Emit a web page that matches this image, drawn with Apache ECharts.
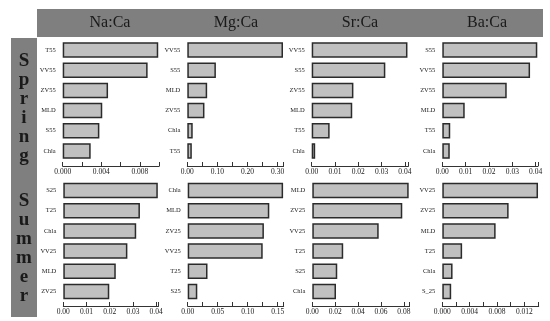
<!DOCTYPE html>
<html>
<head>
<meta charset="utf-8">
<script src="https://cdn.jsdelivr.net/npm/echarts@6/dist/echarts.min.js"></script>
<style>html,body{margin:0;padding:0;background:#fff}#c{width:550px;height:321px}</style>
</head>
<body>
<div id="c"></div>
<script>
const headers = ['Na:Ca', 'Mg:Ca', 'Sr:Ca', 'Ba:Ca'];
const seasons = ['Spring', 'Summer'];

const naSpringCats = ['T55', 'VV55', 'ZV55', 'MLD', 'S55', 'Chla'];
const naSpringVals = [0.0099, 0.0088, 0.0047, 0.0041, 0.0038, 0.0029];
const mgSpringCats = ['VV55', 'S55', 'MLD', 'ZV55', 'Chla', 'T55'];
const mgSpringVals = [0.318, 0.095, 0.066, 0.057, 0.018, 0.015];
const srSpringCats = ['VV55', 'S55', 'ZV55', 'MLD', 'T55', 'Chla'];
const srSpringVals = [0.0411, 0.0316, 0.0179, 0.0174, 0.0077, 0.0015];
const baSpringCats = ['S55', 'VV55', 'ZV55', 'MLD', 'T55', 'Chla'];
const baSpringVals = [0.0407, 0.0376, 0.0276, 0.0096, 0.0034, 0.0032];

const naSummerCats = ['S25', 'T25', 'Chla', 'VV25', 'MLD', 'ZV25'];
const naSummerVals = [0.0407, 0.0330, 0.0314, 0.0276, 0.0226, 0.0198];
const mgSummerCats = ['Chla', 'MLD', 'ZV25', 'VV25', 'T25', 'S25'];
const mgSummerVals = [0.159, 0.136, 0.127, 0.125, 0.033, 0.016];
const srSummerCats = ['MLD', 'ZV25', 'VV25', 'T25', 'S25', 'Chla'];
const srSummerVals = [0.0842, 0.0786, 0.058, 0.027, 0.0218, 0.0207];
const baSummerCats = ['VV25', 'ZV25', 'MLD', 'T25', 'Chla', 'S_25'];
const baSummerVals = [0.0140, 0.0097, 0.0078, 0.0029, 0.0015, 0.0013];

// axis scales: [max, tick interval, label step, decimals]
const naSpringAxis = [0.010, 0.002, 0.004, 3];
const mgSpringAxis = [0.32, 0.05, 0.10, 2];
const srSpringAxis = [0.0415, 0.01, 0.01, 2];
const baSpringAxis = [0.041, 0.01, 0.01, 2];
const naSummerAxis = [0.041, 0.01, 0.01, 2];
const mgSummerAxis = [0.16, 0.025, 0.05, 2];
const srSummerAxis = [0.085, 0.02, 0.02, 2];
const baSummerAxis = [0.0141, 0.002, 0.004, 3];

const panels = [
  {cats: naSpringCats, vals: naSpringVals, axis: naSpringAxis, row: 0, left: 62.7, width: 96.5},
  {cats: mgSpringCats, vals: mgSpringVals, axis: mgSpringAxis, row: 0, left: 187.3, width: 96.3},
  {cats: srSpringCats, vals: srSpringVals, axis: srSpringAxis, row: 0, left: 311.7, width: 96.7},
  {cats: baSpringCats, vals: baSpringVals, axis: baSpringAxis, row: 0, left: 442.3, width: 95.7},
  {cats: naSummerCats, vals: naSummerVals, axis: naSummerAxis, row: 1, left: 63.3, width: 95.2},
  {cats: mgSummerCats, vals: mgSummerVals, axis: mgSummerAxis, row: 1, left: 187.7, width: 96.0},
  {cats: srSummerCats, vals: srSummerVals, axis: srSummerAxis, row: 1, left: 312.3, width: 97.3},
  {cats: baSummerCats, vals: baSummerVals, axis: baSummerAxis, row: 1, left: 442.3, width: 96.4}
];
const rows = [{top: 40, height: 121, offset: 5}, {top: 180.5, height: 121, offset: 4.5}];

const FONT = '"Liberation Serif", "Times New Roman", serif';
const grid = [], xAxis = [], yAxis = [], series = [];
panels.forEach((p, i) => {
  const r = rows[p.row];
  const [mx, tick, step, dec] = p.axis;
  grid.push({left: p.left, width: p.width, top: r.top, height: r.height, containLabel: false});
  xAxis.push({
    type: 'value', gridIndex: i, min: 0, max: mx, interval: tick, offset: r.offset,
    splitLine: {show: false},
    axisLine: {show: true, lineStyle: {color: '#333', width: 1}},
    axisTick: {show: true, inside: true, length: 4, lineStyle: {color: '#333'}},
    axisLabel: {
      margin: 2, fontSize: 7.5, fontFamily: FONT, color: '#222',
      formatter: v => {
        const k = Math.round(v / step);
        return Math.abs(v - k * step) < 1e-9 ? v.toFixed(dec) : '';
      }
    }
  });
  yAxis.push({
    type: 'category', gridIndex: i, data: p.cats, inverse: true,
    axisLine: {show: false}, axisTick: {show: false},
    axisLabel: {margin: 7, fontSize: 6.5, fontFamily: FONT, color: '#222'}
  });
  series.push({
    type: 'bar', xAxisIndex: i, yAxisIndex: i, data: p.vals, barWidth: 15.5,
    itemStyle: {color: '#c0c0c0', borderColor: '#2b2b2b', borderWidth: 1.5},
    silent: true, animation: false
  });
});

const graphic = [
  {type: 'rect', shape: {x: 37, y: 9, width: 506, height: 28}, style: {fill: '#7f7f7f'}, z: -1},
  {type: 'rect', shape: {x: 11, y: 38, width: 26, height: 279}, style: {fill: '#7f7f7f'}, z: -1}
];
const headerX = [110, 236, 360, 487];
headers.forEach((h, i) => {
  graphic.push({type: 'text', x: headerX[i], y: 23, style: {text: h, fill: '#1a1a1a', font: '16px ' + FONT, textAlign: 'center', textVerticalAlign: 'middle'}});
});
const seasonStart = [61, 201];
seasons.forEach((s, si) => {
  s.split('').forEach((ch, j) => {
    graphic.push({type: 'text', x: 24, y: seasonStart[si] + j * 19,
      style: {text: ch, fill: '#1a1a1a', font: 'bold 19px ' + FONT, textAlign: 'center', textVerticalAlign: 'middle'}});
  });
});

const chart = echarts.init(document.getElementById('c'), null, {renderer: 'canvas'});
chart.setOption({animation: false, grid, xAxis, yAxis, series, graphic});
</script>
</body>
</html>
